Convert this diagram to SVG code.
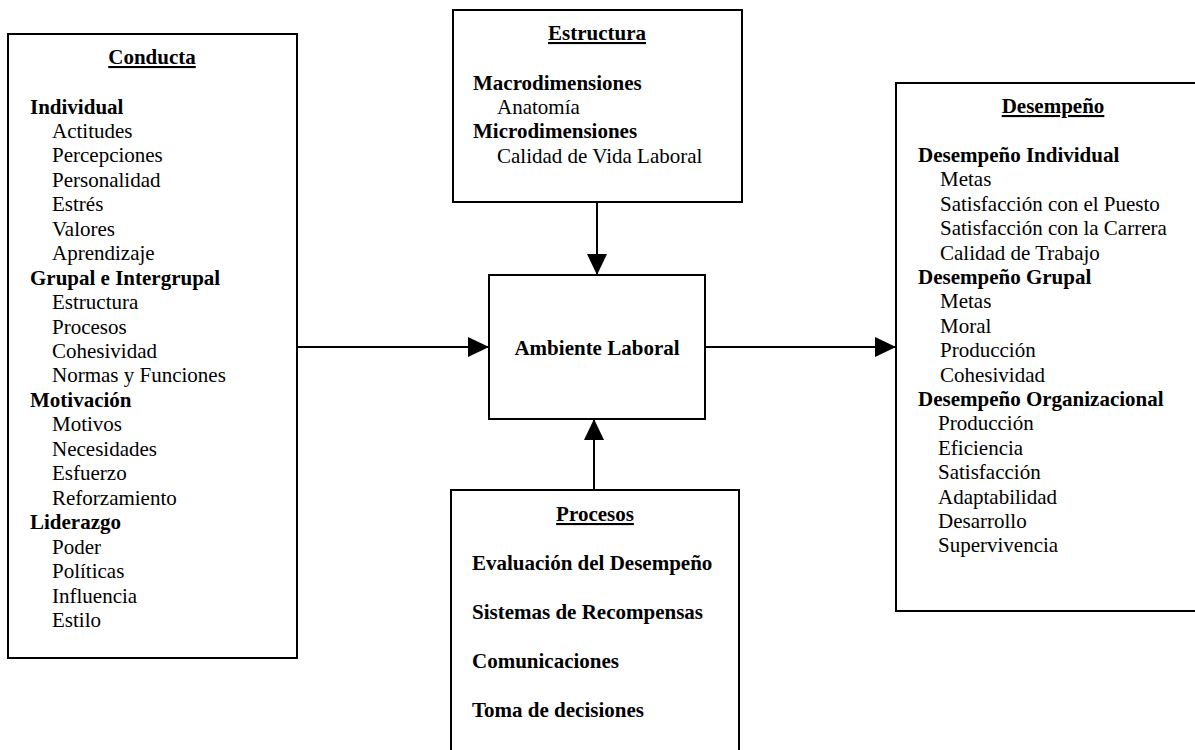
<svg xmlns="http://www.w3.org/2000/svg" width="1195" height="750" viewBox="0 0 1195 750">
<defs>
<marker id="arr" viewBox="0 0 21 20" refX="21" refY="10" markerWidth="21" markerHeight="20" markerUnits="userSpaceOnUse" orient="auto">
<path d="M0,0 L21,10 L0,20 Z" fill="#000"/>
</marker>
<style>
.box{fill:#fff;stroke:#000;stroke-width:2}
text{font-family:"Liberation Serif","Times New Roman",serif;font-size:21px;fill:#000}
.b{font-weight:bold}
.t{font-weight:bold;text-anchor:middle;text-decoration:underline}
.c{font-weight:bold;text-anchor:middle}
.con{stroke:#000;stroke-width:2;fill:none;marker-end:url(#arr)}
</style>
</defs>
<rect width="1195" height="750" fill="#fff"/>
<g id="connectors">
<line class="con" x1="297" y1="347" x2="489" y2="347"/>
<line class="con" x1="705" y1="347" x2="896" y2="347"/>
<line class="con" x1="597" y1="203" x2="597" y2="275"/>
<line class="con" x1="594" y1="490" x2="594" y2="419"/>
</g>
<g id="conducta">
<rect class="box" x="8" y="34" width="289" height="624"/>
<text class="t" x="152" y="64">Conducta</text>
<text class="b" x="30" y="113.5">Individual</text>
<text x="52" y="137.9">Actitudes</text>
<text x="52" y="162.4">Percepciones</text>
<text x="52" y="186.8">Personalidad</text>
<text x="52" y="211.3">Estrés</text>
<text x="52" y="235.7">Valores</text>
<text x="52" y="260.2">Aprendizaje</text>
<text class="b" x="30" y="284.6">Grupal e Intergrupal</text>
<text x="52" y="309.1">Estructura</text>
<text x="52" y="333.5">Procesos</text>
<text x="52" y="358">Cohesividad</text>
<text x="52" y="382.4">Normas y Funciones</text>
<text class="b" x="30" y="406.9">Motivación</text>
<text x="52" y="431.3">Motivos</text>
<text x="52" y="455.8">Necesidades</text>
<text x="52" y="480.2">Esfuerzo</text>
<text x="52" y="504.7">Reforzamiento</text>
<text class="b" x="30" y="529.1">Liderazgo</text>
<text x="52" y="553.6">Poder</text>
<text x="52" y="578">Políticas</text>
<text x="52" y="602.5">Influencia</text>
<text x="52" y="627">Estilo</text>
</g>
<g id="estructura">
<rect class="box" x="453" y="10" width="289" height="192"/>
<text class="t" x="597" y="40">Estructura</text>
<text class="b" x="473" y="90">Macrodimensiones</text>
<text x="497" y="114">Anatomía</text>
<text class="b" x="473" y="138">Microdimensiones</text>
<text x="497" y="163">Calidad de Vida Laboral</text>
</g>
<g id="ambiente">
<rect class="box" x="489" y="275" width="216" height="144"/>
<text class="c" x="597" y="355">Ambiente Laboral</text>
</g>
<g id="procesos">
<rect class="box" x="451" y="490" width="288" height="280"/>
<text class="t" x="595" y="521">Procesos</text>
<text class="b" x="472" y="570">Evaluación del Desempeño</text>
<text class="b" x="472" y="619">Sistemas de Recompensas</text>
<text class="b" x="472" y="668">Comunicaciones</text>
<text class="b" x="472" y="717">Toma de decisiones</text>
</g>
<g id="desempeno">
<rect class="box" x="896" y="83" width="310" height="528"/>
<text class="t" x="1053" y="113">Desempeño</text>
<text class="b" x="918" y="162">Desempeño Individual</text>
<text x="940" y="186.4">Metas</text>
<text x="940" y="210.8">Satisfacción con el Puesto</text>
<text x="940" y="235.2">Satisfacción con la Carrera</text>
<text x="940" y="259.6">Calidad de Trabajo</text>
<text class="b" x="918" y="284">Desempeño Grupal</text>
<text x="940" y="308.4">Metas</text>
<text x="940" y="332.8">Moral</text>
<text x="940" y="357.2">Producción</text>
<text x="940" y="381.6">Cohesividad</text>
<text class="b" x="918" y="406">Desempeño Organizacional</text>
<text x="938" y="430.4">Producción</text>
<text x="938" y="454.8">Eficiencia</text>
<text x="938" y="479.2">Satisfacción</text>
<text x="938" y="503.6">Adaptabilidad</text>
<text x="938" y="528">Desarrollo</text>
<text x="938" y="552.4">Supervivencia</text>
</g>
</svg>
